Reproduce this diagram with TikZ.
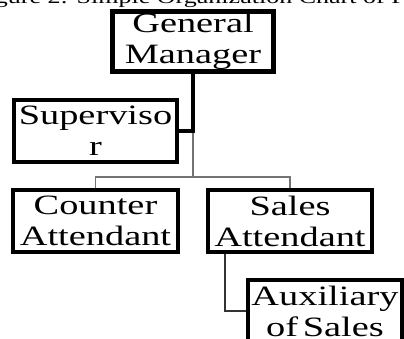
\documentclass[tikz,border=0pt]{standalone}
\usepackage{fontspec}
\newfontfamily\wf[FakeStretch=1.37]{Liberation Serif}
\begin{document}
\begin{tikzpicture}[x=1pt,y=-1pt,
  box/.style={draw=black,line width=4.7pt,fill=white,inner sep=0pt,align=center,
    font=\wf\fontsize{28}{31}\selectfont},
  thickline/.style={draw=black,line width=4.2pt},
  grayline/.style={draw=black!55,line width=1.3pt},
  darkline/.style={draw=black!80,line width=1.1pt}]
\useasboundingbox (0,0) rectangle (404,338);
\clip (0,0) rectangle (404,338);
\node[anchor=base west,inner sep=0pt,font=\wf\fontsize{19}{22}\selectfont] (cap) at (-27,3.5) {Figure 2: Simple Organization Chart of Petrol Station};
\node[box,minimum width=161pt,minimum height=60pt] (gm) at (193,41.5) {General\\Manager};
\node[box,minimum width=163pt,minimum height=62pt] (sup) at (95.5,131) {Superviso\\r};
\node[box,minimum width=165pt,minimum height=62pt] (ca) at (95.5,221) {Counter\\Attendant};
\node[box,minimum width=164pt,minimum height=62pt] (sa) at (290,221) {Sales\\Attendant};
\node[box,minimum width=154pt,minimum height=62pt] (aux) at (325,311) {Auxiliary\\of\,Sales};
\coordinate (j1) at (gm.south |- sup.east);
\coordinate (j2) at (193,177);
\coordinate (k) at ([xshift=-65pt]sa.south);
\draw[grayline] (j1) -- (j2);
\draw[grayline] (j2) -| (ca.north);
\draw[grayline] (j2) -| (sa.north);
\draw[thickline] (gm.south) |- (sup.east);
\draw[darkline] (k) |- (aux.west);
\end{tikzpicture}
\end{document}
